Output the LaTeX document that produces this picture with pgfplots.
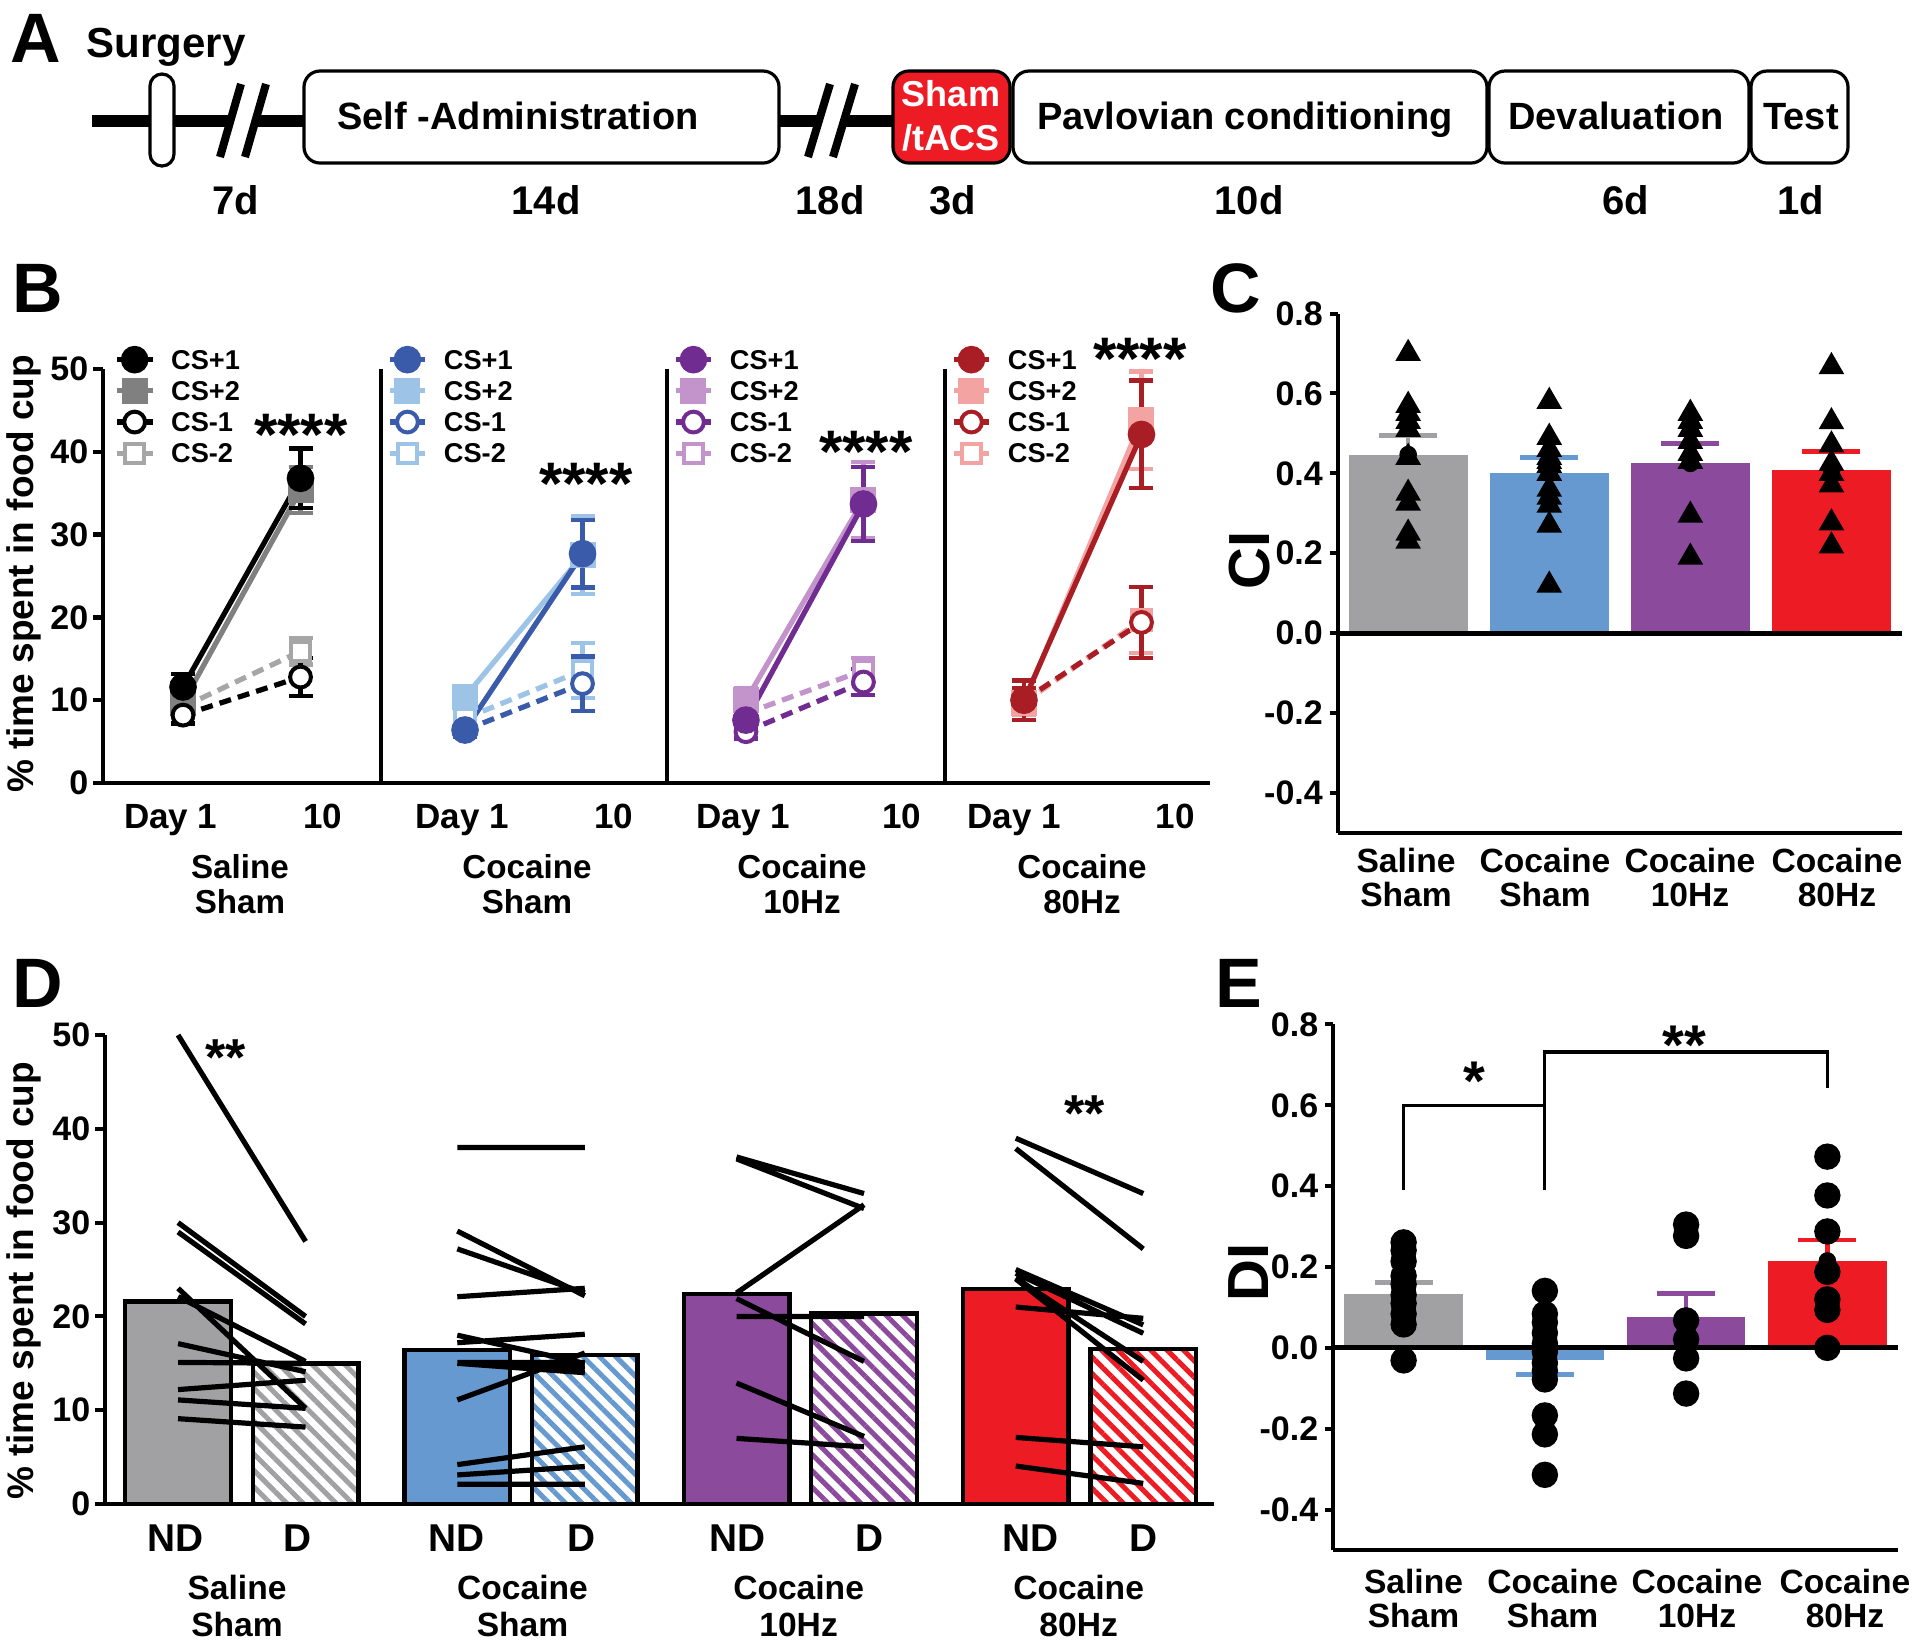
\documentclass[border=0pt]{standalone}
\usepackage{fontspec}
\setmainfont{Liberation Sans}
\usepackage{pgfplots}
\pgfplotsset{compat=1.18}
\usetikzlibrary{patterns.meta}
\newcommand{\fs}[1]{\fontsize{#1}{#1}\selectfont\bfseries}

\definecolor{cGray}{HTML}{A1A1A4}
\definecolor{cBlue}{HTML}{6699CF}
\definecolor{cPurple}{HTML}{8B4A9B}
\definecolor{cRed}{HTML}{ED1C24}
\definecolor{bGrayL}{HTML}{808080}
\definecolor{bGrayL2}{HTML}{A6A6A6}
\definecolor{bBlueD}{HTML}{3A5BA9}
\definecolor{bBlueL}{HTML}{9DC3E6}
\definecolor{bPurD}{HTML}{712C92}
\definecolor{bPurL}{HTML}{C393CB}
\definecolor{bRedD}{HTML}{A81E24}
\definecolor{bRedL}{HTML}{F4A3A3}

\pgfplotsset{
  Bsub/.style={scale only axis, anchor=south west, height=103.5pt, ymin=0, ymax=50,
    axis x line*=bottom, axis y line*=left, axis line style={line width=1.1pt,-},
    xtick=\empty, ytick=\empty, clip=false,
    tick align=outside, major tick length=2.5pt, ytick style={line width=1.1pt, black},
    /pgf/number format/assume math mode=true,
    legend cell align=left,
    legend style={draw=none, fill=none, inner sep=0pt, outer sep=0pt, at={(0,1)}, anchor=north west,
      font=\fs{6.8pt}, nodes={inner sep=1pt, text height=5pt, text depth=0.3pt}, row sep=0.5pt,
      /tikz/every odd column/.append style={column sep=3pt}},
    legend image code/.code={\draw[mark repeat=2,mark phase=2,##1] plot coordinates {(0cm,0cm)(0.157cm,0cm)(0.314cm,0cm)};}},
  csplus1/.style={color=#1, solid, line width=1.3pt, mark=*, mark size=2.8pt, mark options={solid, fill=#1}},
  csplus2/.style={color=#1, solid, line width=1.3pt, mark=square*, mark size=2.6pt, mark options={solid, fill=#1}},
  csminus1/.style={color=#1, dash pattern=on 3pt off 1.8pt, line width=1.3pt, mark=*, mark size=2.6pt, mark options={solid, fill=white, line width=1pt}},
  csminus2/.style={color=#1, dash pattern=on 3pt off 1.8pt, line width=1.3pt, mark=square*, mark size=2.4pt, mark options={solid, fill=white, line width=1pt}},
  ebar/.style={/pgfplots/error bars/y dir=both, /pgfplots/error bars/y explicit,
    /pgfplots/error bars/error bar style={line width=1.1pt, solid, color=#1},
    /pgfplots/error bars/error mark options={rotate=90, mark size=3pt, line width=1.1pt, solid, color=#1}},
  CEax/.style={scale only axis, anchor=south west, xmin=0.5, xmax=4.5, ymin=-0.5, ymax=0.8,
    axis x line*=bottom, axis y line*=left, axis line style={line width=1pt,-},
    xtick=\empty, ytick={-0.4,-0.2,0,0.2,0.4,0.6,0.8}, tick align=outside, major tick length=2pt,
    ytick style={line width=1pt, black},
    yticklabel style={font=\fs{8.5pt}, inner sep=1.5pt, /pgf/number format/.cd, fixed, fixed zerofill, precision=1, assume math mode=true},
    clip=false},
  cebar/.style 2 args={only marks, mark=none, forget plot, /pgfplots/error bars/y dir=#2, /pgfplots/error bars/y explicit,
    /pgfplots/error bars/error bar style={line width=1.1pt, color=#1},
    /pgfplots/error bars/error mark options={rotate=90, mark size=7.25pt, line width=1.2pt, color=#1}},
  Dbar/.style={ybar, bar width=26.4pt, bar shift=0pt, draw=black, line width=1.1pt, fill=#1, forget plot},
  Dhatch/.style={ybar, bar width=26.4pt, bar shift=0pt, draw=black, line width=1.1pt, forget plot,
    pattern={Lines[angle=-45,distance=2.9pt,line width=1.25pt]}, pattern color=#1},
  subj/.style={black, line width=1.3pt, unbounded coords=jump, forget plot},
}

\begin{document}
\begin{tikzpicture}
\path[use as bounding box] (0,0) rectangle (480pt,-410.75pt);

% ---------------- Panel A (timeline) ----------------
\begin{scope}[x=0.25pt,y=-0.25pt]
\draw[line width=3pt] (92,121) -- (893,121);
\fill[white] (219,160) -- (240,81) -- (267,81) -- (246,160) -- cycle;
\draw[line width=2pt] (220,157) -- (241,84);
\draw[line width=2pt] (245,157) -- (266,84);
\fill[white] (807,160) -- (829,81) -- (856,81) -- (834,160) -- cycle;
\draw[line width=2pt] (808,157) -- (830,84);
\draw[line width=2pt] (833,157) -- (855,84);
\draw[line width=0.8pt, fill=white, rounded corners=3pt] (150,74) rectangle (174,166);
\draw[line width=0.8pt, fill=white, rounded corners=4pt] (304,71) rectangle (779,163);
\draw[line width=0.8pt, fill=cRed, rounded corners=4pt] (893,71) rectangle (1010,163);
\draw[line width=0.8pt, fill=white, rounded corners=4pt] (1013,71) rectangle (1487,163);
\draw[line width=0.8pt, fill=white, rounded corners=4pt] (1489,71) rectangle (1749,163);
\draw[line width=0.8pt, fill=white, rounded corners=4pt] (1751,71) rectangle (1848,163);
\node[font=\fs{9.5pt}, anchor=base] at (518,129) {Self -Administration};
\node[font=\fs{9pt}, anchor=base, white] at (951,106) {Sham};
\node[font=\fs{9pt}, anchor=base, white] at (951,150) {/tACS};
\node[font=\fs{9.5pt}, anchor=base] at (1245,129) {Pavlovian conditioning};
\node[font=\fs{9.5pt}, anchor=base] at (1616,129) {Devaluation};
\node[font=\fs{9.5pt}, anchor=base] at (1801,129) {Test};
\foreach \xx/\tt in {236/7d, 546/14d, 830/18d, 953/3d, 1249/10d, 1626/6d, 1801/1d}
  \node[font=\fs{10pt}, anchor=base] at (\xx,214) {\tt};
\node[font=\fs{10.5pt}, anchor=base west, inner sep=0pt] at (86,57) {Surgery};
\node[font=\fs{17.5pt}, anchor=base west, inner sep=0pt] at (10,62) {A};
\node[font=\fs{17.5pt}, anchor=base west, inner sep=0pt] at (12,312) {B};
\node[font=\fs{17.5pt}, anchor=base west, inner sep=0pt] at (1210,312) {C};
\node[font=\fs{17.5pt}, anchor=base west, inner sep=0pt] at (12,1007) {D};
\node[font=\fs{17.5pt}, anchor=base west, inner sep=0pt] at (1215,1007) {E};
\end{scope}

% ---------------- Panel B ----------------
\begin{axis}[Bsub, at={(25.75pt,-195.75pt)}, width=69.5pt, xmin=0.319, xmax=2.685,
  ytick={0,10,20,30,40,50}, yticklabel style={font=\fs{8.5pt}, inner sep=1pt},
  legend style={xshift=2.8pt, yshift=6pt}]
\addlegendimage{csplus1=black}
\addlegendimage{csplus2=bGrayL}
\addlegendimage{csminus1=black, solid}
\addlegendimage{csminus2=bGrayL2, solid}
\addplot[csminus2=bGrayL2, forget plot, ebar=bGrayL2] coordinates {(1,9.2) +- (0,1.0) (2,15.9) +- (0,1.6)};
\addplot[csplus2=bGrayL, forget plot, ebar=bGrayL] coordinates {(1,9.7) +- (0,1.0) (2,35.4) +- (0,2.8)};
\addplot[csminus1=black, forget plot, ebar=black] coordinates {(1,8.2) +- (0,1.0) (2,12.8) +- (0,2.3)};
\addplot[csplus1=black, forget plot, ebar=black] coordinates {(1,11.6) +- (0,1.6) (2,36.8) +- (0,3.6)};
\legend{CS+1,CS+2,CS-1,CS-2}
\end{axis}

\begin{axis}[Bsub, at={(95.25pt,-195.75pt)}, width=71.5pt, xmin=0.285, xmax=2.719,
  legend style={xshift=1.5pt, yshift=6pt}]
\addlegendimage{csplus1=bBlueD}
\addlegendimage{csplus2=bBlueL}
\addlegendimage{csminus1=bBlueD, solid}
\addlegendimage{csminus2=bBlueL, solid}
\addplot[csminus2=bBlueL, forget plot, ebar=bBlueL] coordinates {(1,7.8) +- (0,1.0) (2,13.6) +- (0,3.3)};
\addplot[csplus2=bBlueL, forget plot, ebar=bBlueL] coordinates {(1,10.4) +- (0,1.2) (2,27.5) +- (0,4.7)};
\addplot[csminus1=bBlueD, forget plot, ebar=bBlueD] coordinates {(1,6.4) +- (0,0.8) (2,12.0) +- (0,3.3)};
\addplot[csplus1=bBlueD, forget plot, ebar=bBlueD] coordinates {(1,6.4) +- (0,0.8) (2,27.7) +- (0,4.1)};
\legend{CS+1,CS+2,CS-1,CS-2}
\end{axis}

\begin{axis}[Bsub, at={(166.75pt,-195.75pt)}, width=69.5pt, xmin=0.328, xmax=2.694,
  legend style={xshift=1.5pt, yshift=6pt}]
\addlegendimage{csplus1=bPurD}
\addlegendimage{csplus2=bPurL}
\addlegendimage{csminus1=bPurD, solid}
\addlegendimage{csminus2=bPurL, solid}
\addplot[csminus2=bPurL, forget plot, ebar=bPurL] coordinates {(1,8.4) +- (0,1.0) (2,13.6) +- (0,1.5)};
\addplot[csplus2=bPurL, forget plot, ebar=bPurL] coordinates {(1,10.0) +- (0,1.5) (2,34.2) +- (0,4.6)};
\addplot[csminus1=bPurD, forget plot, ebar=bPurD] coordinates {(1,6.2) +- (0,0.8) (2,12.2) +- (0,1.6)};
\addplot[csplus1=bPurD, forget plot, ebar=bPurD] coordinates {(1,7.6) +- (0,1.0) (2,33.7) +- (0,4.5)};
\legend{CS+1,CS+2,CS-1,CS-2}
\end{axis}

\begin{axis}[Bsub, at={(236.25pt,-195.75pt)}, width=66.25pt, xmin=0.328, xmax=2.583,
  legend style={xshift=1.5pt, yshift=6pt}]
\addlegendimage{csplus1=bRedD}
\addlegendimage{csplus2=bRedL}
\addlegendimage{csminus1=bRedD, solid}
\addlegendimage{csminus2=bRedL, solid}
\addplot[csminus2=bRedL, forget plot, ebar=bRedL] coordinates {(1,9.7) +- (0,1.5) (2,19.7) +- (0,4.0)};
\addplot[csplus2=bRedL, forget plot, ebar=bRedL] coordinates {(1,9.7) +- (0,1.5) (2,43.8) +- (0,5.9)};
\addplot[csminus1=bRedD, forget plot, ebar=bRedD] coordinates {(1,10.0) +- (0,1.5) (2,19.4) +- (0,4.3)};
\addplot[csplus1=bRedD, forget plot, ebar=bRedD] coordinates {(1,10.0) +- (0,2.4) (2,42.1) +- (0,6.5)};
\legend{CS+1,CS+2,CS-1,CS-2}
\end{axis}

% ---------------- Panel C ----------------
\begin{axis}[CEax, at={(334.4pt,-208.2pt)}, width=141.1pt, height=129.8pt]
\addplot[ybar, bar width=29.75pt, bar shift=0pt, fill=cGray, draw=none, forget plot] coordinates {(1,0.447)};
\addplot[ybar, bar width=29.75pt, bar shift=0pt, fill=cBlue, draw=none, forget plot] coordinates {(2,0.402)};
\addplot[ybar, bar width=29.75pt, bar shift=0pt, fill=cPurple, draw=none, forget plot] coordinates {(3,0.425)};
\addplot[ybar, bar width=29.75pt, bar shift=0pt, fill=cRed, draw=none, forget plot] coordinates {(4,0.408)};
\addplot[cebar={cGray}{plus}] coordinates {(1,0.447) +- (0,0.047)};
\addplot[cebar={cBlue}{plus}] coordinates {(2,0.402) +- (0,0.037)};
\addplot[cebar={cPurple}{plus}] coordinates {(3,0.425) +- (0,0.050)};
\addplot[cebar={cRed}{plus}] coordinates {(4,0.408) +- (0,0.046)};
\draw[line width=1.3pt] (axis cs:0.5,0) -- (axis cs:4.5,0);
\addplot[only marks, mark=triangle*, mark size=3.3pt, black, forget plot] coordinates {
 (1,0.70) (1,0.57) (1,0.55) (1,0.53) (1,0.51) (1,0.44) (1,0.35) (1,0.325) (1,0.25) (1,0.23)
 (2,0.58) (2,0.49) (2,0.46) (2,0.44) (2,0.43) (2,0.42) (2,0.40) (2,0.36) (2,0.34) (2,0.32) (2,0.27) (2,0.12)
 (3,0.55) (3,0.53) (3,0.51) (3,0.48) (3,0.45) (3,0.43) (3,0.295) (3,0.19)
 (4,0.667) (4,0.529) (4,0.471) (4,0.425) (4,0.40) (4,0.371) (4,0.276) (4,0.218)};
\end{axis}

% ---------------- Panel D ----------------
\begin{axis}[scale only axis, anchor=south west, at={(26.25pt,-376pt)}, width=277.25pt, height=117.25pt,
  xmin=0.427, xmax=9.125, ymin=0, ymax=50,
  axis x line*=bottom, axis y line*=left, axis line style={line width=1pt,-},
  xtick=\empty, ytick={0,10,20,30,40,50}, tick align=outside, major tick length=2.5pt,
  ytick style={line width=1pt, black}, yticklabel style={font=\fs{8.5pt}, inner sep=1pt},
  /pgf/number format/assume math mode=true, clip=false]
\addplot[Dbar=cGray] coordinates {(1,21.6)};
\addplot[Dhatch=cGray] coordinates {(2,15.0)};
\addplot[Dbar=cBlue] coordinates {(3.19,16.45)};
\addplot[Dhatch=cBlue] coordinates {(4.19,15.9)};
\addplot[Dbar=cPurple] coordinates {(5.38,22.4)};
\addplot[Dhatch=cPurple] coordinates {(6.38,20.3)};
\addplot[Dbar=cRed] coordinates {(7.57,22.9)};
\addplot[Dhatch=cRed] coordinates {(8.57,16.5)};
\addplot[subj] coordinates {(1,50) (2,28) (1,nan) (1,30) (2,20) (1,nan) (1,29) (2,19.2) (1,nan)
 (1,23) (2,10.2) (1,nan) (1,22.1) (2,15.2) (1,nan) (1,17.1) (2,14.1) (1,nan) (1,15.1) (2,15.0) (1,nan)
 (1,12.2) (2,13.2) (1,nan) (1,11.1) (2,10.2) (1,nan) (1,9.1) (2,8.2)};
\addplot[subj] coordinates {(3.19,38) (4.19,38) (3.19,nan) (3.19,29.1) (4.19,22.2) (3.19,nan)
 (3.19,27.2) (4.19,22.5) (3.19,nan) (3.19,22.1) (4.19,23) (3.19,nan) (3.19,18) (4.19,15) (3.19,nan)
 (3.19,17.2) (4.19,18.1) (3.19,nan) (3.19,15.1) (4.19,15.1) (3.19,nan) (3.19,15) (4.19,14.5) (3.19,nan)
 (3.19,15) (4.19,14) (3.19,nan) (3.19,11.1) (4.19,16.1) (3.19,nan) (3.19,4.2) (4.19,6.1) (3.19,nan)
 (3.19,3.1) (4.19,4.0) (3.19,nan) (3.19,2.1) (4.19,2.1)};
\addplot[subj] coordinates {(5.38,37) (6.38,33.1) (5.38,nan) (5.38,36.8) (6.38,31.5) (5.38,nan)
 (5.38,22.5) (6.38,31.9) (5.38,nan) (5.38,21.9) (6.38,15.2) (5.38,nan) (5.38,20) (6.38,20) (5.38,nan)
 (5.38,12.9) (6.38,7.2) (5.38,nan) (5.38,7) (6.38,6.1)};
\addplot[subj] coordinates {(7.57,39) (8.57,33.1) (7.57,nan) (7.57,37.9) (8.57,27.2) (7.57,nan)
 (7.57,25) (8.57,19.1) (7.57,nan) (7.57,24.6) (8.57,18.2) (7.57,nan) (7.57,24.1) (8.57,15.2) (7.57,nan)
 (7.57,24) (8.57,13.2) (7.57,nan) (7.57,21) (8.57,19.8) (7.57,nan) (7.57,7.1) (8.57,6.1) (7.57,nan)
 (7.57,4.05) (8.57,2.2)};
\end{axis}

% ---------------- Panel E ----------------
\begin{axis}[CEax, at={(333.25pt,-387.5pt)}, width=141.25pt, height=131.4pt]
\addplot[ybar, bar width=29.6pt, bar shift=0pt, fill=cGray, draw=none, forget plot] coordinates {(1,0.133)};
\addplot[ybar, bar width=29.6pt, bar shift=0pt, fill=cBlue, draw=none, forget plot] coordinates {(2,-0.029)};
\addplot[ybar, bar width=29.6pt, bar shift=0pt, fill=cPurple, draw=none, forget plot] coordinates {(3,0.076)};
\addplot[ybar, bar width=29.6pt, bar shift=0pt, fill=cRed, draw=none, forget plot] coordinates {(4,0.215)};
\addplot[cebar={cGray}{plus}] coordinates {(1,0.133) +- (0,0.029)};
\addplot[cebar={cBlue}{minus}] coordinates {(2,-0.029) +- (0,0.036)};
\addplot[cebar={cPurple}{plus}] coordinates {(3,0.076) +- (0,0.059)};
\addplot[cebar={cRed}{plus}] coordinates {(4,0.215) +- (0,0.052)};
\draw[line width=1.3pt] (axis cs:0.5,0) -- (axis cs:4.5,0);
\addplot[only marks, mark=*, mark size=3.1pt, black, forget plot] coordinates {
 (1,0.261) (1,0.241) (1,0.214) (1,0.178) (1,0.157) (1,0.131) (1,0.110) (1,0.084) (1,0.058) (1,-0.031)
 (2,0.141) (2,0.084) (2,0.063) (2,0.037) (2,0.011) (2,-0.010) (2,-0.037) (2,-0.057) (2,-0.078) (2,-0.167) (2,-0.214) (2,-0.314)
 (3,0.305) (3,0.277) (3,0.068) (3,0.021) (3,-0.026) (3,-0.113)
 (4,0.473) (4,0.377) (4,0.288) (4,0.188) (4,0.120) (4,0.094) (4,0.0)};
\draw[line width=0.8pt] (axis cs:1,0.39) -- (axis cs:1,0.60) -- (axis cs:2,0.60) -- (axis cs:2,0.39);
\draw[line width=0.8pt] (axis cs:2,0.60) -- (axis cs:2,0.732) -- (axis cs:4,0.732) -- (axis cs:4,0.643);
\end{axis}

% ---------------- Labels ----------------
\begin{scope}[x=0.25pt,y=-0.25pt]
\node[font=\fs{9.25pt}, rotate=90] at (24,574) {\% time spent in food cup};
\node[font=\fs{9.25pt}, rotate=90] at (24,1281) {\% time spent in food cup};
\node[font=\fs{14.5pt}, rotate=90] at (1250,560) {CI};
\node[font=\fs{14.5pt}, rotate=90] at (1249,1272) {DI};
% B stars
\foreach \xx/\yy in {301/455, 586/504, 866/472, 1140/379}
  \node[font=\fs{15pt}, anchor=base, inner sep=0pt] at (\xx,\yy) {****};
% B x labels
\foreach \xx in {170.8, 462, 743, 1014}
  \node[font=\fs{8.75pt}, anchor=base] at (\xx,828) {Day 1};
\foreach \xx in {322.5, 614, 902, 1175}
  \node[font=\fs{8.75pt}, anchor=base] at (\xx,828) {10};
\foreach \xx/\aa/\bb in {240/Saline/Sham, 527/Cocaine/Sham, 802/Cocaine/10Hz, 1082/Cocaine/80Hz}{
  \node[font=\fs{8.3pt}, anchor=base] at (\xx,878) {\aa};
  \node[font=\fs{8.3pt}, anchor=base] at (\xx,913) {\bb};}
% C x labels
\foreach \xx/\aa/\bb in {1406/Saline/Sham, 1545/Cocaine/Sham, 1690/Cocaine/10Hz, 1837/Cocaine/80Hz}{
  \node[font=\fs{8.4pt}, anchor=base] at (\xx,872) {\aa};
  \node[font=\fs{8.4pt}, anchor=base] at (\xx,906) {\bb};}
% D labels
\foreach \xx in {175.7, 457, 737.7, 1031}
  \node[font=\fs{9.7pt}, anchor=base] at (\xx,1551) {ND};
\foreach \xx in {297.5, 582, 870, 1144}
  \node[font=\fs{9.7pt}, anchor=base] at (\xx,1551) {D};
\foreach \xx/\aa/\bb in {237/Saline/Sham, 522.5/Cocaine/Sham, 798.6/Cocaine/10Hz, 1078.6/Cocaine/80Hz}{
  \node[font=\fs{8.4pt}, anchor=base] at (\xx,1599) {\aa};
  \node[font=\fs{8.4pt}, anchor=base] at (\xx,1636) {\bb};}
\node[font=\fs{13pt}, anchor=base, inner sep=0pt] at (226,1075) {**};
\node[font=\fs{13pt}, anchor=base, inner sep=0pt] at (1085,1131) {**};
% E labels
\foreach \xx/\aa/\bb in {1413.5/Saline/Sham, 1552.6/Cocaine/Sham, 1697/Cocaine/10Hz, 1845/Cocaine/80Hz}{
  \node[font=\fs{8.4pt}, anchor=base] at (\xx,1593) {\aa};
  \node[font=\fs{8.4pt}, anchor=base] at (\xx,1627) {\bb};}
\node[font=\fs{14pt}, anchor=base, inner sep=0pt] at (1474,1100) {*};
\node[font=\fs{14pt}, anchor=base, inner sep=0pt] at (1684,1064) {**};
\end{scope}
\end{tikzpicture}
\end{document}
